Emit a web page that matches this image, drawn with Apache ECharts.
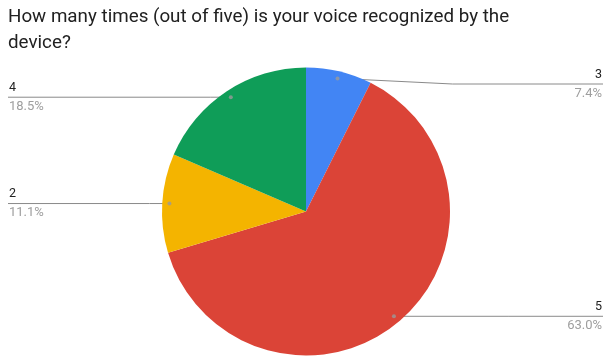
<!DOCTYPE html>
<html>
<head>
<meta charset="utf-8">
<script src="https://cdn.jsdelivr.net/npm/echarts@6/dist/echarts.min.js"></script>
<style>html,body{margin:0;padding:0;background:#fff}#c{width:604px;height:358px}</style>
</head>
<body>
<div id="c"></div>
<script>
// Data (clockwise from 12 o'clock)
const categories = ['3', '5', '2', '4'];
const counts = [2, 17, 3, 5];
const colors = ['#4285f4', '#db4437', '#f4b400', '#0f9d58'];
const titleText = 'How many times (out of five) is your voice recognized by the\ndevice?';

const W = 604, CX = 306, CY = 211.5, R = 144;
const total = counts.reduce((a, b) => a + b, 0);

// mid-angles (in data units) for the small dots on each slice
const dotData = [];
let acc = 0;
counts.forEach(v => { dotData.push([0.95, acc + v / 2]); acc += v; });

const chart = echarts.init(document.getElementById('c'), null, {renderer: 'canvas'});
chart.setOption({
  animation: false,
  backgroundColor: '#ffffff',
  title: {
    text: titleText,
    left: 8, top: 4, padding: 0,
    textStyle: {fontFamily: 'Roboto', fontSize: 18.8, fontWeight: 'normal', color: '#212121', lineHeight: 26}
  },
  polar: {center: [CX, CY], radius: R},
  radiusAxis: {min: 0, max: 1, show: false},
  angleAxis: {min: 0, max: total, startAngle: 90, clockwise: true, show: false},
  series: [
    {
      type: 'pie',
      center: [CX, CY],
      radius: R,
      startAngle: 90,
      clockwise: true,
      avoidLabelOverlap: false,
      data: categories.map((c, i) => ({name: c, value: counts[i], itemStyle: {color: colors[i]}})),
      label: {
        show: true,
        position: 'outside',
        formatter: p => '{n|' + p.name + '}\n{p|' + (p.value / total * 100).toFixed(1) + '%}',
        rich: {
          n: {fontFamily: 'Roboto', fontSize: 12.5, color: '#222222', lineHeight: 19},
          p: {fontFamily: 'Roboto', fontSize: 13, color: '#9e9e9e', lineHeight: 19}
        }
      },
      labelLine: {show: true, length: 10, length2: 10, lineStyle: {color: '#8a8a8a', width: 1}},
      labelLayout: function (params) {
        const pts = params.labelLinePoints;
        if (!pts) return {};
        const E = pts[0];
        const dx = E[0] - CX, dy = E[1] - CY;
        const D = [CX + dx * 0.95, CY + dy * 0.95];
        const right = dx > 0;
        const y = Math.max(D[1], 84);
        const bend = right ? D[0] + 115 : D[0] - 20;
        const edgeX = right ? W - 1 : 8;
        return {
          x: right ? W - 2 : 9,
          y: y,
          align: right ? 'right' : 'left',
          verticalAlign: 'middle',
          labelLinePoints: [D, [bend, y], [edgeX, y]]
        };
      },
      emphasis: {disabled: true},
      z: 1
    },
    {
      type: 'scatter',
      coordinateSystem: 'polar',
      data: dotData,
      symbol: 'circle',
      symbolSize: 4,
      itemStyle: {color: '#9a9a9a'},
      silent: true,
      z: 3
    }
  ]
});
</script>
</body>
</html>
